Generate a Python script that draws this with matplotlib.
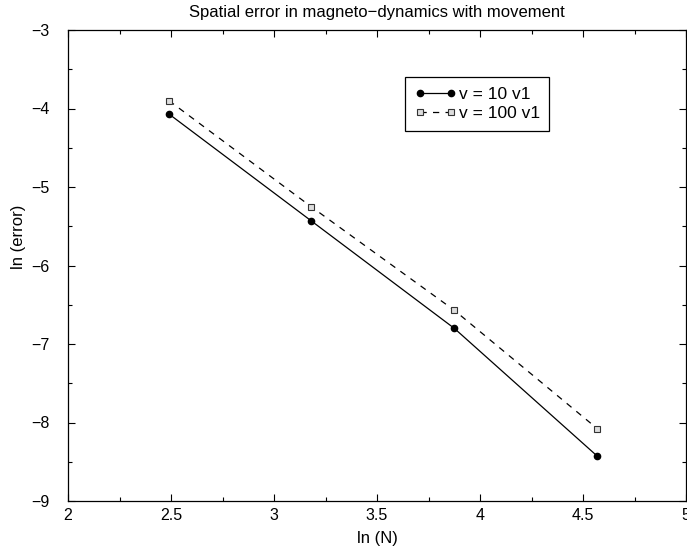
import matplotlib
matplotlib.use("Agg")
import matplotlib.pyplot as plt
from matplotlib.ticker import MultipleLocator

plt.rcParams['font.family'] = ['Liberation Sans', 'DejaVu Sans']

ln_N = [2.49, 3.18, 3.875, 4.57]
err_v10 = [-4.07, -5.43, -6.80, -8.43]
err_v100 = [-3.90, -5.25, -6.57, -8.08]
labels = ["v = 10 v1", "v = 100 v1"]
title = "Spatial error in magneto\u2212dynamics with movement"
xlabel = "ln (N)"
ylabel = "ln (error)"

W, H = 687, 551
fig = plt.figure(figsize=(W / 100, H / 100), dpi=100)
ax = fig.add_axes([68 / W, 1 - 501 / H, (686 - 68) / W, (501 - 30) / H])

ax.plot(ln_N, err_v10, color='black', lw=0.9, ls='-', marker='o',
        markersize=4.5, markerfacecolor='black', markeredgecolor='black',
        label=labels[0])
ax.plot(ln_N, err_v100, color='black', lw=0.9, ls=(0, (5, 5)), marker='s',
        markersize=4, markerfacecolor='#dddddd', markeredgecolor='#333333',
        markeredgewidth=0.8, label=labels[1])

ax.set_xlim(2, 5)
ax.set_ylim(-9, -3)
ax.xaxis.set_major_locator(MultipleLocator(0.5))
ax.xaxis.set_minor_locator(MultipleLocator(0.25))
ax.yaxis.set_major_locator(MultipleLocator(1))
ax.yaxis.set_minor_locator(MultipleLocator(0.5))
ax.xaxis.set_major_formatter(plt.FuncFormatter(lambda v, p: f"{v:g}"))
ax.yaxis.set_major_formatter(plt.FuncFormatter(lambda v, p: f"{v:g}".replace('-', '\u2212')))
ax.tick_params(which='both', direction='in', top=True, right=True,
               labelsize=11.5, width=0.8)
ax.tick_params(which='major', length=5)
ax.tick_params(which='minor', length=3)
ax.tick_params(axis='y', pad=13)
ax.tick_params(axis='x', pad=5)
for s in ax.spines.values():
    s.set_linewidth(0.9)

leg = ax.legend(loc='upper left', bbox_to_anchor=((405 - 68) / 618, (501 - 77) / 471),
                fontsize=12.5, frameon=True, fancybox=False, edgecolor='black',
                framealpha=1, borderpad=0.55, handlelength=2.4, labelspacing=0.25,
                handletextpad=0.15, borderaxespad=0, numpoints=2)
leg.get_frame().set_linewidth(0.9)

fig.text(377 / W, 1 - 12 / H, title, ha='center', va='center', fontsize=12)
fig.text(377 / W, 1 - 538 / H, xlabel, ha='center', va='center', fontsize=12)
fig.text(18 / W, 1 - 237 / H, ylabel, ha='center', va='center', fontsize=12,
         rotation=90)

fig.savefig("out.png", dpi=100)
